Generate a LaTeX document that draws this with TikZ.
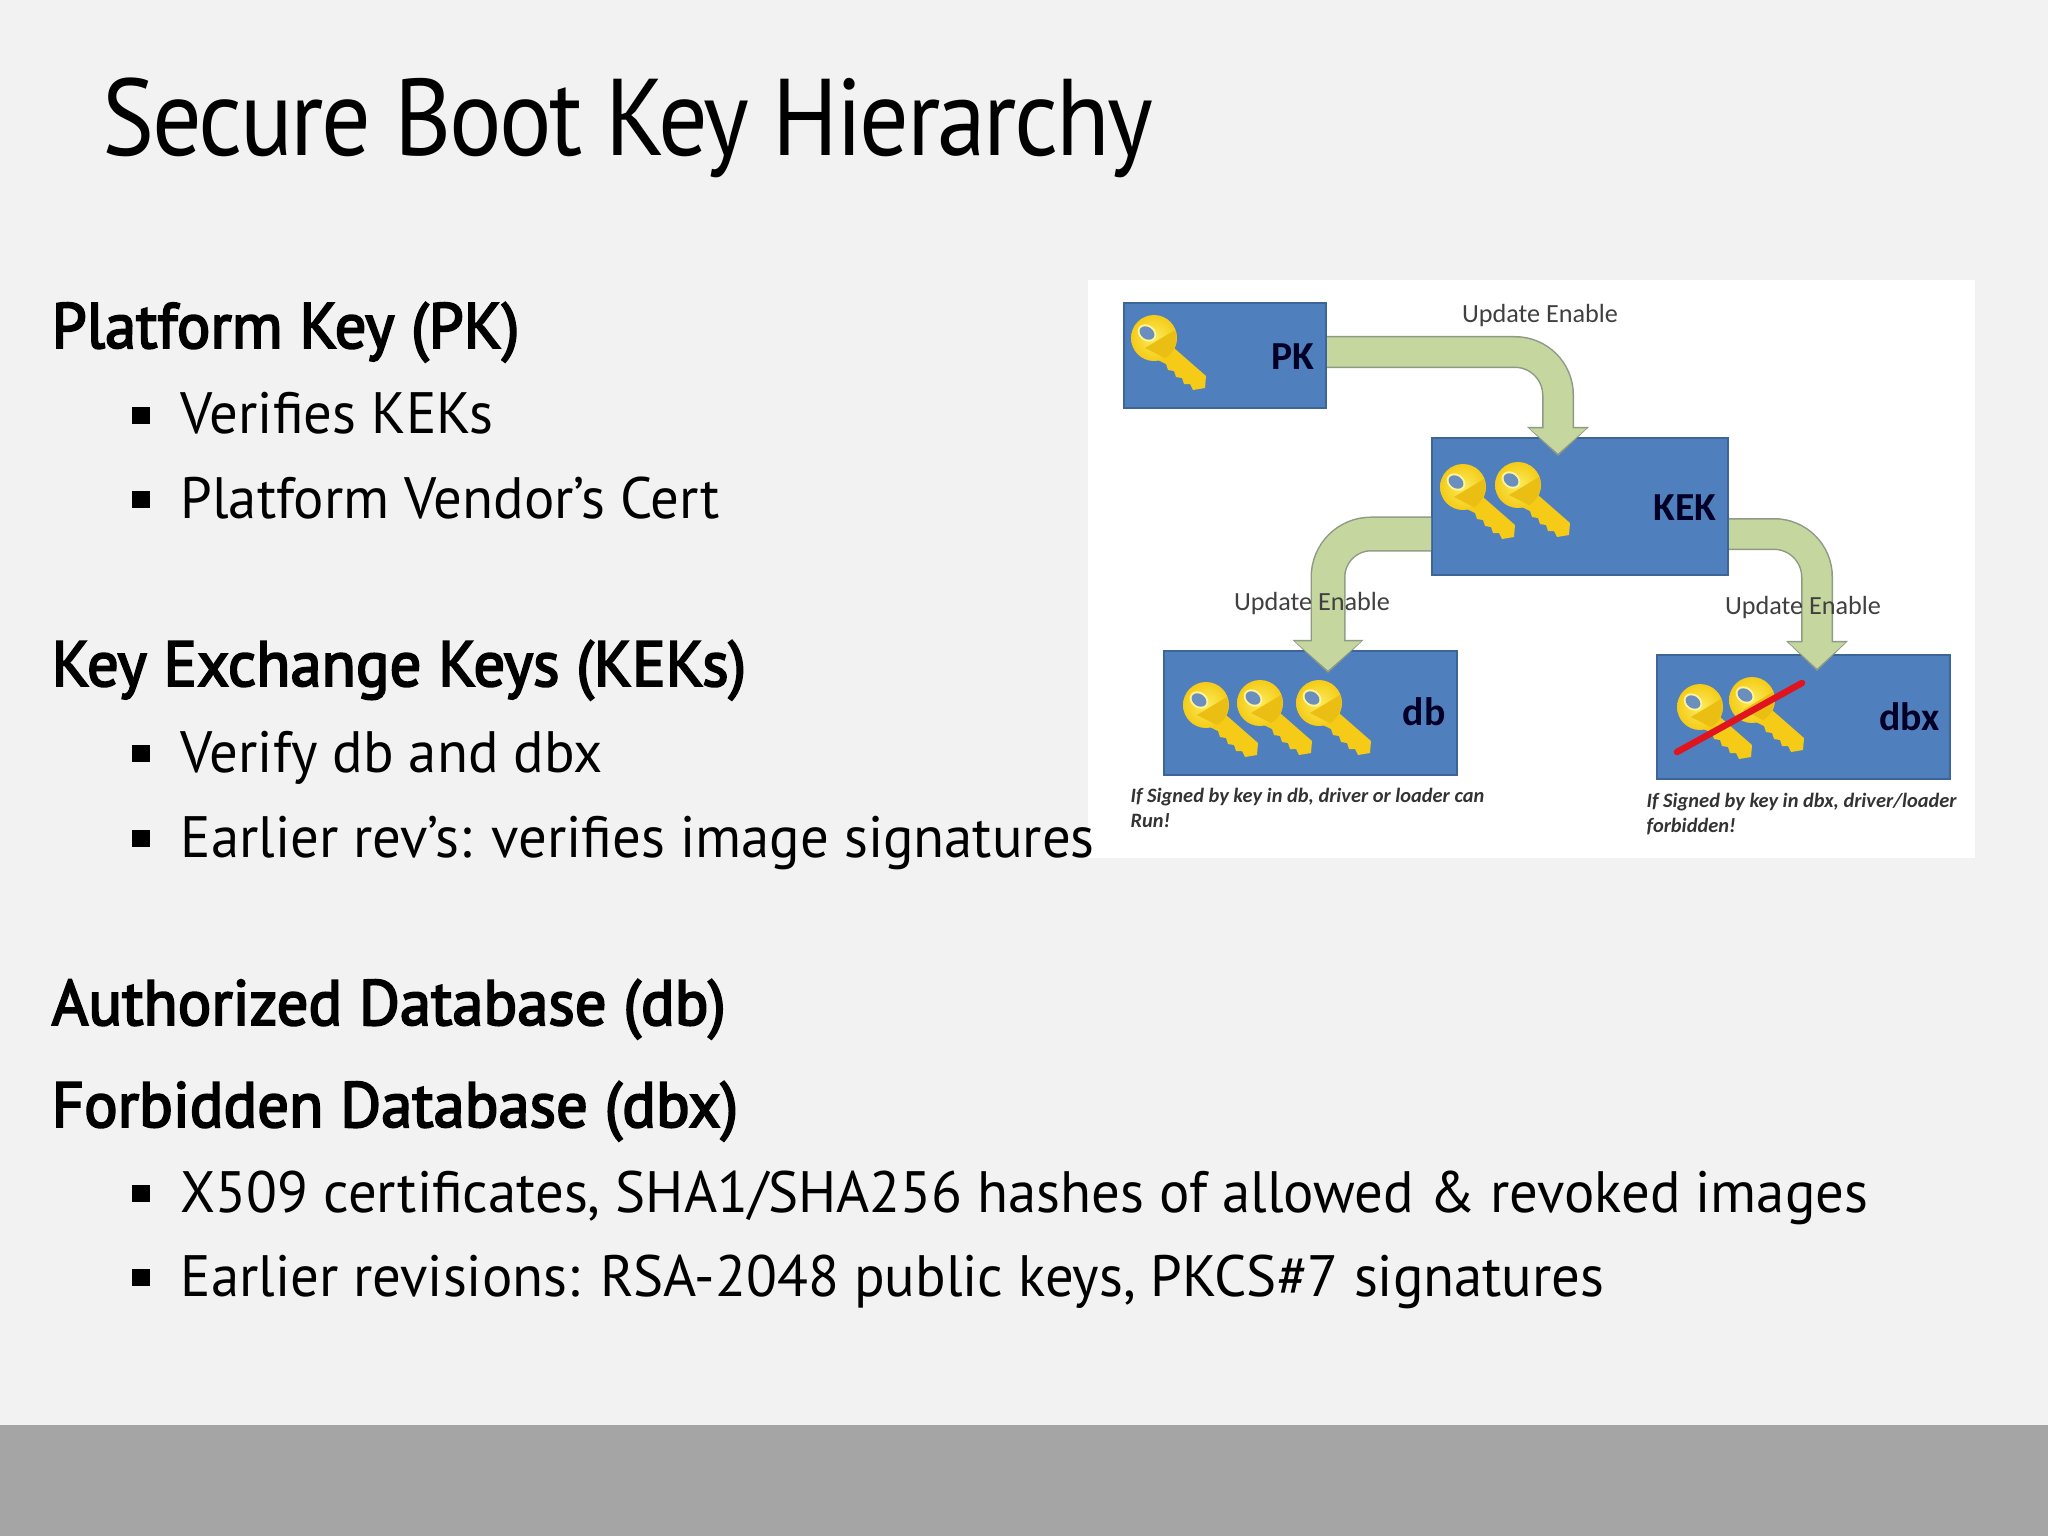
\documentclass[tikz,border=0pt]{standalone}
\usepackage{fontspec}
\usepackage{tikz}
\usetikzlibrary{arrows.meta}
\setmainfont{PT Sans}[FakeStretch=0.972]
\newfontfamily\titlefont{PT Sans}[FakeStretch=0.9,LetterSpace=-2.4]
\newfontfamily\headfont{PT Sans}[FakeStretch=0.98,FakeBold=3]
\newfontfamily\calibri{Carlito}

\definecolor{slidebg}{HTML}{F2F2F3}
\definecolor{footbar}{HTML}{A6A5A6}
\definecolor{boxblue}{HTML}{4F7FBD}
\definecolor{boxedge}{HTML}{3D6597}
\definecolor{arrowgreen}{HTML}{C5D69F}
\definecolor{arrowedge}{HTML}{8E9A86}
\definecolor{keygold}{HTML}{F5CB17}
\definecolor{keydark}{HTML}{EBBE14}
\definecolor{keylight}{HTML}{FBEC5B}
\definecolor{keyhole}{HTML}{6A8FBE}
\definecolor{strikered}{HTML}{E0141E}

\tikzset{
	keybox/.style={draw=boxedge,line width=0.02cm,fill=boxblue,anchor=north west,inner sep=0pt},
	boxname/.style={font=\calibri\bfseries\fontsize{11.3}{13}\selectfont,text=black!85!blue,anchor=base east,inner sep=0pt},
	updlabel/.style={font=\calibri\fontsize{7.45}{9}\selectfont,text=black!75,anchor=base,inner sep=0pt},
	caption/.style={font=\calibri\bfseries\itshape\fontsize{5.8}{7.2}\selectfont,text=black!80,anchor=north west,align=left,inner sep=0pt},
	updarrow/.style n args={3}{draw=arrowgreen,line width=#1,rounded corners=0.43cm,shorten >=0.025cm,
		-{Triangle[width=#2-0.05cm,length=#3-0.04cm,fill=arrowgreen,color=arrowgreen]},
		preaction={draw=arrowedge,line width=#1+0.03cm,shorten >=0pt,
			-{Triangle[width=#2,length=#3,fill=arrowedge,color=arrowedge]}}},
	heading/.style={font=\headfont\fontsize{18.2}{22}\selectfont,anchor=base west,inner sep=0pt},
	item/.style={font=\fontsize{16.6}{20}\selectfont,anchor=base west,inner sep=0pt},
	bullet/.style={fill=black,minimum size=0.17cm,inner sep=0pt},
	pics/goldkey/.style={code={
		\fill[keygold] (20,10) -- (52,38) -- (51,50) -- (39,52) -- (36,46) -- (30,46) -- (28,40) -- (22,39) -- (20,33) -- (14,32) -- (12,26) -- (4,22) -- cycle;
		\shade[inner color=keylight,outer color=keygold] (0,0) circle (23);
		\fill[keydark] (-9,10) -- (21,-8) arc (-21:60:23) -- cycle;
		\fill[keylight!60!white,rotate around={-35:(-7,-5)}] (-7,-5) ellipse (10 and 8);
		\fill[keyhole,rotate around={-35:(-7,-5)}] (-7,-5) ellipse (8 and 6);
	}}
}

\begin{document}
\begin{tikzpicture}[x=0.01cm,y=-0.01cm]
	\useasboundingbox (0,0) rectangle (2048,1536);
	\fill[slidebg] (0,0) rectangle (2048,1536);
	\fill[footbar] (0,1425) rectangle (2048,1536);
	\fill[white] (1088,280) rectangle (1975,858);

	\node[font=\titlefont\fontsize{31}{36}\selectfont,anchor=base west,inner sep=0pt] (title) at (102,155) {Secure Boot Key Hierarchy};

	\node[heading] (pkhead) at (51,348) {Platform Key (PK)};
	\node[bullet] (b1) at (141,415) {};
	\node[item] (i1) at (180,433) {Verifies KEKs};
	\node[bullet] (b2) at (141,499) {};
	\node[item] (i2) at (180,518) {Platform Vendor’s Cert};

	\node[heading] (kekhead) at (51,686) {Key Exchange Keys (KEKs)};
	\node[bullet] (b3) at (141,753) {};
	\node[item] (i3) at (180,772) {Verify db and dbx};
	\node[bullet] (b4) at (141,838) {};
	\node[item] (i4) at (180,857) {Earlier rev’s: verifies image signatures};

	\node[heading] (dbhead) at (51,1025) {Authorized Database (db)};
	\node[heading] (dbxhead) at (51,1127) {Forbidden Database (dbx)};
	\node[bullet] (b5) at (141,1193) {};
	\node[item] (i5) at (180,1212) {X509 certificates, SHA1/SHA256 hashes of allowed \& revoked images};
	\node[bullet] (b6) at (141,1277) {};
	\node[item] (i6) at (180,1296) {Earlier revisions: RSA-2048 public keys, PKCS\#7 signatures};

	\node[keybox,minimum width=2.02cm,minimum height=1.05cm] (pk) at (1123,302) {};
	\node[keybox,minimum width=2.96cm,minimum height=1.37cm] (kek) at (1431,437) {};
	\node[keybox,minimum width=2.93cm,minimum height=1.24cm] (db) at (1163,650) {};
	\node[keybox,minimum width=2.93cm,minimum height=1.24cm] (dbx) at (1656,654) {};

	\node[boxname] (pkname) at (1315,369) {PK};
	\node[boxname] (kekname) at (1717,520) {KEK};
	\node[boxname] (dbname) at (1446,725) {db};
	\node[boxname] (dbxname) at (1940,730) {dbx};

	\pic at (1154,338) {goldkey};
	\pic at (1463,487) {goldkey};
	\pic at (1518,485) {goldkey};
	\pic at (1206,705) {goldkey};
	\pic at (1260,703) {goldkey};
	\pic at (1319,703) {goldkey};
	\pic at (1700,707) {goldkey};
	\pic at (1752,700) {goldkey};
	\coordinate (strikea) at (1677,752);
	\coordinate (strikeb) at (1802,683);
	\draw[strikered,line width=0.065cm,line cap=round] (strikea) -- (strikeb);

	\coordinate (pktip) at (1558,456);
	\coordinate (dbtip) at (1328,673);
	\coordinate (dbxtip) at (1817,671);
	\draw[updarrow={0.29cm}{0.60cm}{0.29cm}] (pk.east |- 0,352) -| (pktip);
	\draw[updarrow={0.32cm}{0.69cm}{0.33cm}] (kek.west |- 0,534) -| (dbtip);
	\draw[updarrow={0.29cm}{0.60cm}{0.30cm}] (kek.east |- 0,534) -| (dbxtip);

	\node[updlabel] (upd1) at (1540,322) {Update Enable};
	\node[updlabel] (upd2) at (1312,610) {Update Enable};
	\node[updlabel] (upd3) at (1803,614) {Update Enable};

	\node[caption] (cap1) at (1130,787) {If Signed by key in db, driver or loader can\\Run!};
	\node[caption] (cap2) at (1646,792) {If Signed by key in dbx, driver/loader\\forbidden!};
\end{tikzpicture}
\end{document}
